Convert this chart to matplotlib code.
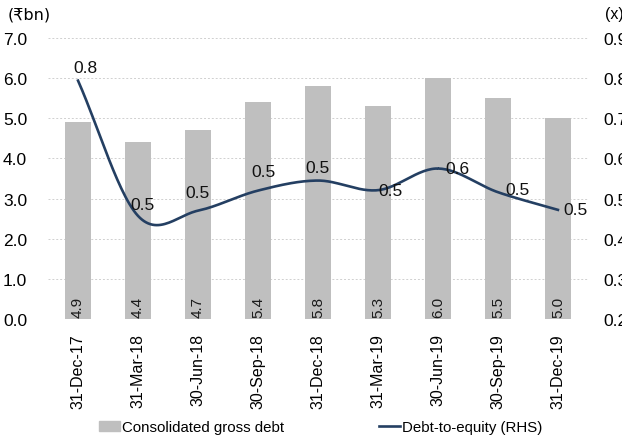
import numpy as np
import matplotlib
matplotlib.use("Agg")
import matplotlib.pyplot as plt
from matplotlib.lines import Line2D
from matplotlib.patches import Patch

plt.rcParams['font.family'] = ['Liberation Sans Narrow', 'Liberation Sans', 'DejaVu Sans']

quarters = ['31-Dec-17', '31-Mar-18', '30-Jun-18', '30-Sep-18', '31-Dec-18',
            '31-Mar-19', '30-Jun-19', '30-Sep-19', '31-Dec-19']
gross_debt = [4.9, 4.4, 4.7, 5.4, 5.8, 5.3, 6.0, 5.5, 5.0]
debt_equity = [0.794, 0.457, 0.47, 0.52, 0.545, 0.521, 0.575, 0.516, 0.472]

# label offsets (points) and alignment for the debt-to-equity labels
de_offsets = [(5, 4), (3, 3), (0, 8), (4, 8), (0, 4), (0, 0), (5, 0), (5, 2), (4, 0)]
de_ha = ['center', 'center', 'center', 'center', 'center', 'left', 'left', 'left', 'left']

bar_col = '#BFBFBF'
line_col = '#243F62'


def smooth(xs, ys, n=30):
    # Catmull-Rom style smoothing like a spreadsheet "smoothed line"
    xs = np.asarray(xs, float)
    ys = np.asarray(ys, float)
    px = np.concatenate([[2 * xs[0] - xs[1]], xs, [2 * xs[-1] - xs[-2]]])
    py = np.concatenate([[2 * ys[0] - ys[1]], ys, [2 * ys[-1] - ys[-2]]])
    ox, oy = [], []
    t = np.linspace(0, 1, n)
    for i in range(1, len(px) - 2):
        for p, o in ((px, ox), (py, oy)):
            p0, p1, p2, p3 = p[i - 1], p[i], p[i + 1], p[i + 2]
            c = 0.5 * ((2 * p1) + (-p0 + p2) * t + (2 * p0 - 5 * p1 + 4 * p2 - p3) * t ** 2
                       + (-p0 + 3 * p1 - 3 * p2 + p3) * t ** 3)
            o.extend(c)
    return np.array(ox), np.array(oy)


fig = plt.figure(figsize=(6.22, 4.39), dpi=100)
ax = fig.add_axes([0.0772, 0.271, 0.868, 0.640])
x = np.arange(len(quarters))

ax.bar(x, gross_debt, width=0.42, color=bar_col, zorder=2)
for xi, v in zip(x, gross_debt):
    ax.text(xi, 0.05, f'{v:.1f}', rotation=90, ha='center', va='bottom',
            fontsize=11, color='#1a1a1a', zorder=3)

ax.set_xlim(-0.5, len(quarters) - 0.5)
ax.set_ylim(0, 7)
ax.set_yticks(np.arange(0, 7.01, 1))
ax.set_yticklabels([f'{v:.1f}' for v in np.arange(0, 7.01, 1)])
ax.yaxis.grid(True, linestyle=(0, (2, 2)), color='#D0D0D0', linewidth=0.7, zorder=0)
ax.set_axisbelow(True)
ax.set_xticks(x)
ax.set_xticklabels(quarters, rotation=90)
ax.tick_params(axis='y', length=0, labelsize=12.5, pad=15)
ax.tick_params(axis='x', length=0, labelsize=11.5, pad=10)
for s in ax.spines.values():
    s.set_visible(False)

ax2 = ax.twinx()
ax2.set_ylim(0.2, 0.9)
ax2.set_yticks(np.arange(0.2, 0.901, 0.1))
ax2.set_yticklabels([f'{v:.1f}' for v in np.arange(0.2, 0.901, 0.1)])
ax2.tick_params(axis='y', length=0, labelsize=12.5, pad=11)
for s in ax2.spines.values():
    s.set_visible(False)

sx, sy = smooth(x, debt_equity)
ax2.plot(sx, sy, color=line_col, linewidth=1.9, zorder=4)
for xi, v, off, ha in zip(x, debt_equity, de_offsets, de_ha):
    ax2.annotate(f'{v:.1f}', (xi, v), xytext=off, textcoords='offset points',
                 ha=ha, va='bottom' if ha == 'center' else 'center',
                 fontsize=12.5, color='#111111', zorder=5)

fig.text(0.013, 0.966, '(₹bn)', fontsize=11.5, ha='left', va='center',
         family=['Liberation Sans Narrow', 'DejaVu Sans'])
fig.text(0.973, 0.966, '(x)', fontsize=11.5, ha='left', va='center')

handles = [Patch(color=bar_col), Line2D([], [], color=line_col, linewidth=1.9)]
fig.legend(handles, ['Consolidated gross debt', 'Debt-to-equity (RHS)'],
           loc='center', bbox_to_anchor=(0.516, 0.025), ncol=2, frameon=False,
           fontsize=10.8, handlelength=1.4, handletextpad=0.15, columnspacing=6.3)

fig.savefig('out.png', dpi=100)
